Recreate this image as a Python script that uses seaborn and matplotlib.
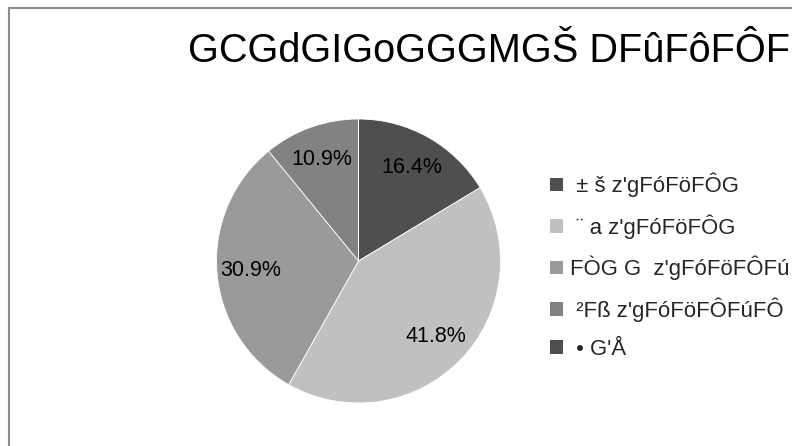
import matplotlib
matplotlib.use("Agg")
import matplotlib.pyplot as plt
import seaborn as sns
from matplotlib.patches import Patch, Rectangle

# data
title = "GCGdGIGoGGGMGŠ DFûFôFÔF"
categories = [" ± š z'gFóFöFÔG", " ¨ a z'gFóFöFÔG", "FÒG G  z'gFóFöFÔFú", " ²Fß z'gFóFöFÔFúFÔ", " • G'Å"]
values = [9, 23, 17, 6, 0]
colors = ["#4f4f4f", "#c0c0c0", "#9a9a9a", "#828282", "#4f4f4f"]

sns.set_theme(style="white")
plt.rcParams['font.family'] = ['Liberation Sans', 'DejaVu Sans']

W, H = 792, 446
fig = plt.figure(figsize=(W / 100, H / 100), dpi=100)
fig.patch.set_facecolor("white")

# outer frame (cut off at right/bottom)
fig.patches.append(Rectangle((8.5 / W, -0.1), 2, (H - 7.5) / H + 0.1, transform=fig.transFigure,
                             fill=False, edgecolor="#8c8c8c", linewidth=1.5))

cx, cy, r = 358.5, 261, 142
ax = fig.add_axes([(cx - r) / W, (H - cy - r) / H, 2 * r / W, 2 * r / H])

def fmt(p):
    return f"{p:.1f}%" if p > 0.05 else ""

wedges, texts, autotexts = ax.pie(values, colors=colors, startangle=90, counterclock=False,
                                  autopct=fmt, pctdistance=0.76, radius=1,
                                  wedgeprops=dict(edgecolor="white", linewidth=0.6),
                                  textprops=dict(fontsize=15.5, color="black"))
ax.set_xlim(-1, 1)
ax.set_ylim(-1, 1)
ax.set_axis_off()

# title, sized to span the same width as in the reference
t = fig.text(188 / W, 1 - 62 / H, title, fontsize=27, color="black", ha="left", va="baseline")
fig.canvas.draw()
bb = t.get_window_extent()
t.set_fontsize(27 * (790 - 188) / bb.width)

# legend font sized by a probe text
probe = fig.text(0.5, 0.5, categories[3].strip(), fontsize=16)
fig.canvas.draw()
pw = probe.get_window_extent().width
probe.remove()
lfs = 16 * 207 / pw
fpx = lfs * 100 / 72

handles = [Patch(facecolor=c, edgecolor="none") for c in colors]

def make_legend(ls, anchor):
    return fig.legend(handles, categories, loc="upper left", bbox_to_anchor=anchor,
                      frameon=False, fontsize=lfs, handlelength=13 / fpx, handleheight=13 / fpx,
                      handletextpad=6.5 / fpx, labelspacing=ls, borderaxespad=0, borderpad=0)

ls = 0.8
anchor = (550 / W, 1 - 173 / H)
leg = make_legend(ls, anchor)
fig.canvas.draw()
hb = [h.get_window_extent() for h in leg.legend_handles]
spacing = (hb[0].y0 - hb[-1].y0) / 4
ls = ls + (40.6 - spacing) / fpx
leg.remove()
leg = make_legend(ls, anchor)
fig.canvas.draw()
h0 = leg.legend_handles[0].get_window_extent()
dx = 550 - h0.x0
dy = (H - 184.5) - (h0.y0 + h0.y1) / 2
leg.remove()
anchor = (anchor[0] + dx / W, anchor[1] + dy / H)
leg = make_legend(ls, anchor)

fig.savefig("out.png", dpi=100)
